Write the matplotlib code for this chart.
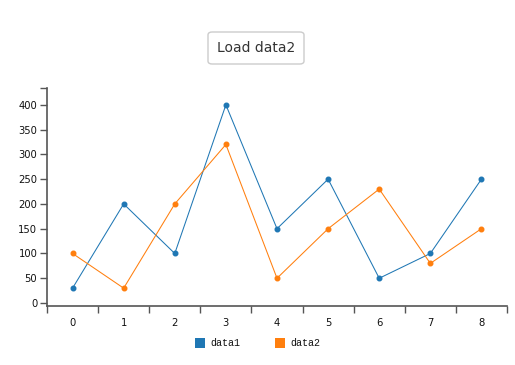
import numpy as np
import matplotlib.pyplot as plt
from matplotlib.patches import FancyBboxPatch, Rectangle

categories = [0, 1, 2, 3, 4, 5, 6, 7, 8]
data1 = [30, 200, 100, 400, 150, 250, 50, 100, 250]
data2 = [100, 30, 200, 320, 50, 150, 230, 80, 150]
yticks = [0, 50, 100, 150, 200, 250, 300, 350, 400]

blue = '#1f77b4'
orange = '#ff7f0e'

fig = plt.figure(figsize=(5.15, 3.65), dpi=100)
ax = fig.add_axes([47/515, 59/365, 460/515, 218/365])

x = np.array(categories)
ax.plot(x, data1, color=blue, lw=0.75, marker='o', ms=3.3, mec=blue)
ax.plot(x, data2, color=orange, lw=0.75, marker='o', ms=3.3, mec=orange)

ax.set_xlim(-0.5, 8.5)
ax.set_ylim(-6, 434)

for s in ['top', 'right']:
    ax.spines[s].set_visible(False)
for s in ['left', 'bottom']:
    ax.spines[s].set_color('#555555')
    ax.spines[s].set_linewidth(1.2)

# x: boundary ticks, labels at category centres
ax.set_xticks(np.arange(-0.5, 9, 1))
ax.set_xticklabels([])
ax.set_xticks(x, minor=True)
ax.set_xticklabels([str(c) for c in categories], minor=True)
ax.tick_params(axis='x', which='major', length=5, width=1, color='#555555', direction='out')
ax.tick_params(axis='x', which='minor', length=0, pad=9, labelsize=7.2, labelcolor='#111111')

# y
ax.set_yticks(yticks)
ax.set_yticklabels([str(v) for v in yticks])
ax.set_yticks([434], minor=True)
ax.tick_params(axis='y', which='both', length=5, width=1, color='#555555', direction='out', labelsize=7.2, labelcolor='#111111', pad=2)

# button
btn = FancyBboxPatch((208/515, 1 - 64/365), 96/515, 32/365,
                     boxstyle='round,pad=0,rounding_size=0.008',
                     transform=fig.transFigure, fc='white', ec='#cccccc', lw=1)
fig.patches.append(btn)
fig.text(256/515, 1 - 48/365, 'Load data2', ha='center', va='center', fontsize=10, color='#333333')

# legend
for xs, col, lab in [(195, blue, 'data1'), (275, orange, 'data2')]:
    fig.patches.append(Rectangle((xs/515, 1 - 348/365), 10/515, 10/365,
                                 transform=fig.transFigure, fc=col, ec='none'))
    fig.text((xs + 15)/515, 1 - 343/365, lab, ha='left', va='center', fontsize=7.2,
             family='Liberation Mono', color='#111111')

fig.savefig('out.png', dpi=100)
